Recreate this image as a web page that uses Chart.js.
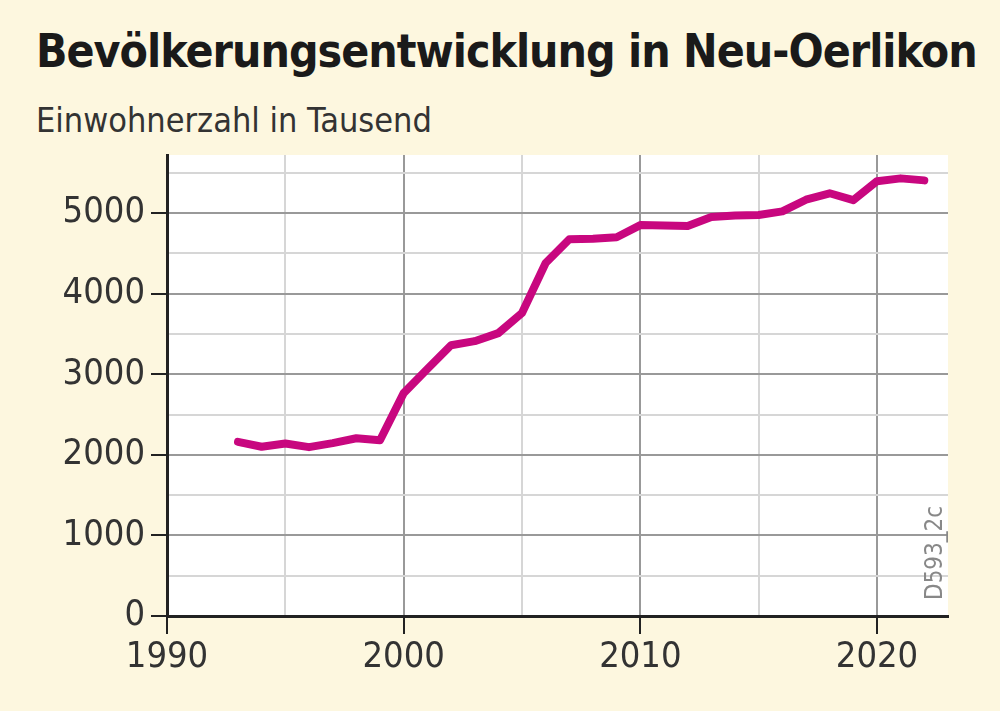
<!DOCTYPE html>
<html><head><meta charset="utf-8">
<script src="https://cdn.jsdelivr.net/npm/chart.js@4"></script>
<style>
body{margin:0;background:#fdf7df;width:1000px;height:711px;overflow:hidden;font-family:'Liberation Sans Narrow','DejaVu Sans Condensed',sans-serif;}
#t{position:absolute;left:36px;top:24px;font-size:46px;font-weight:bold;color:#1a1a1a;letter-spacing:-1px}
#s{position:absolute;left:36px;top:100px;font-size:34px;color:#333}
#wrap{position:absolute;left:0;top:0;width:1000px;height:711px}
</style></head><body>
<div id="t">Bevölkerungsentwicklung in Neu-Oerlikon</div>
<div id="s">Einwohnerzahl in Tausend</div>
<div id="wrap"><canvas id="c" width="1000" height="711"></canvas></div>
<script>
const years=[1993,1994,1995,1996,1997,1998,1999,2000,2001,2002,2003,2004,2005,2006,2007,2008,2009,2010,2011,2012,2013,2014,2015,2016,2017,2018,2019,2020,2021,2022];
const residents=[2160,2100,2140,2095,2145,2205,2180,2765,3065,3360,3410,3510,3760,4380,4675,4680,4700,4850,4845,4840,4950,4970,4975,5020,5165,5245,5160,5395,5430,5405];
const yTickLabels=[0,1000,2000,3000,4000,5000];
const xTickLabels=[1990,2000,2010,2020];
const font="'Liberation Sans Narrow','DejaVu Sans Condensed',sans-serif";
const bgPlugin={id:'bg',beforeDraw(ch){const a=ch.chartArea,c=ch.ctx;c.save();c.fillStyle='#fff';c.fillRect(a.left,a.top,a.right-a.left,a.bottom-a.top);c.restore();},
afterDraw(ch){const c=ch.ctx;c.save();c.translate(942,600);c.rotate(-Math.PI/2);c.fillStyle='#888';c.font="24px "+font;c.fillText('D593_2c',0,0);c.restore();}};
new Chart(document.getElementById('c'),{type:'line',
data:{datasets:[{data:years.map((y,i)=>({x:y,y:residents[i]})),borderColor:'#c8077f',borderWidth:8,pointRadius:0,tension:0,borderCapStyle:'round',borderJoinStyle:'round'}]},
options:{responsive:false,animation:false,layout:{padding:{left:0,top:155,right:52,bottom:0}},
plugins:{legend:{display:false},tooltip:{enabled:false}},
scales:{
x:{type:'linear',min:1990,max:2023,afterFit(s){s.height=95;},
 afterBuildTicks(s){s.ticks=[1990,1995,2000,2005,2010,2015,2020].map(v=>({value:v}));},
 ticks:{autoSkip:false,padding:2,color:'#333',font:{size:36,family:font},callback:v=>xTickLabels.includes(v)?String(v):''},
 grid:{color:c=>c.tick&&c.tick.value%10===0?'#999':'#d6d6d6',lineWidth:2,tickLength:18,tickColor:c=>c.tick&&c.tick.value%10===0?'#222':'rgba(0,0,0,0)'},
 border:{color:'#222',width:3}},
y:{min:0,max:5720,afterFit(s){s.width=167;},
 afterBuildTicks(s){s.ticks=[0,500,1000,1500,2000,2500,3000,3500,4000,4500,5000,5500].map(v=>({value:v}));},
 ticks:{autoSkip:false,padding:6,color:'#333',font:{size:36,family:font},callback:v=>yTickLabels.includes(v)?String(v):''},
 grid:{color:c=>c.tick&&c.tick.value%1000===0?'#999':'#d6d6d6',lineWidth:2,tickLength:16,tickColor:c=>c.tick&&c.tick.value%1000===0?'#222':'rgba(0,0,0,0)'},
 border:{color:'#222',width:3}}
}},plugins:[bgPlugin]});
</script></body></html>
